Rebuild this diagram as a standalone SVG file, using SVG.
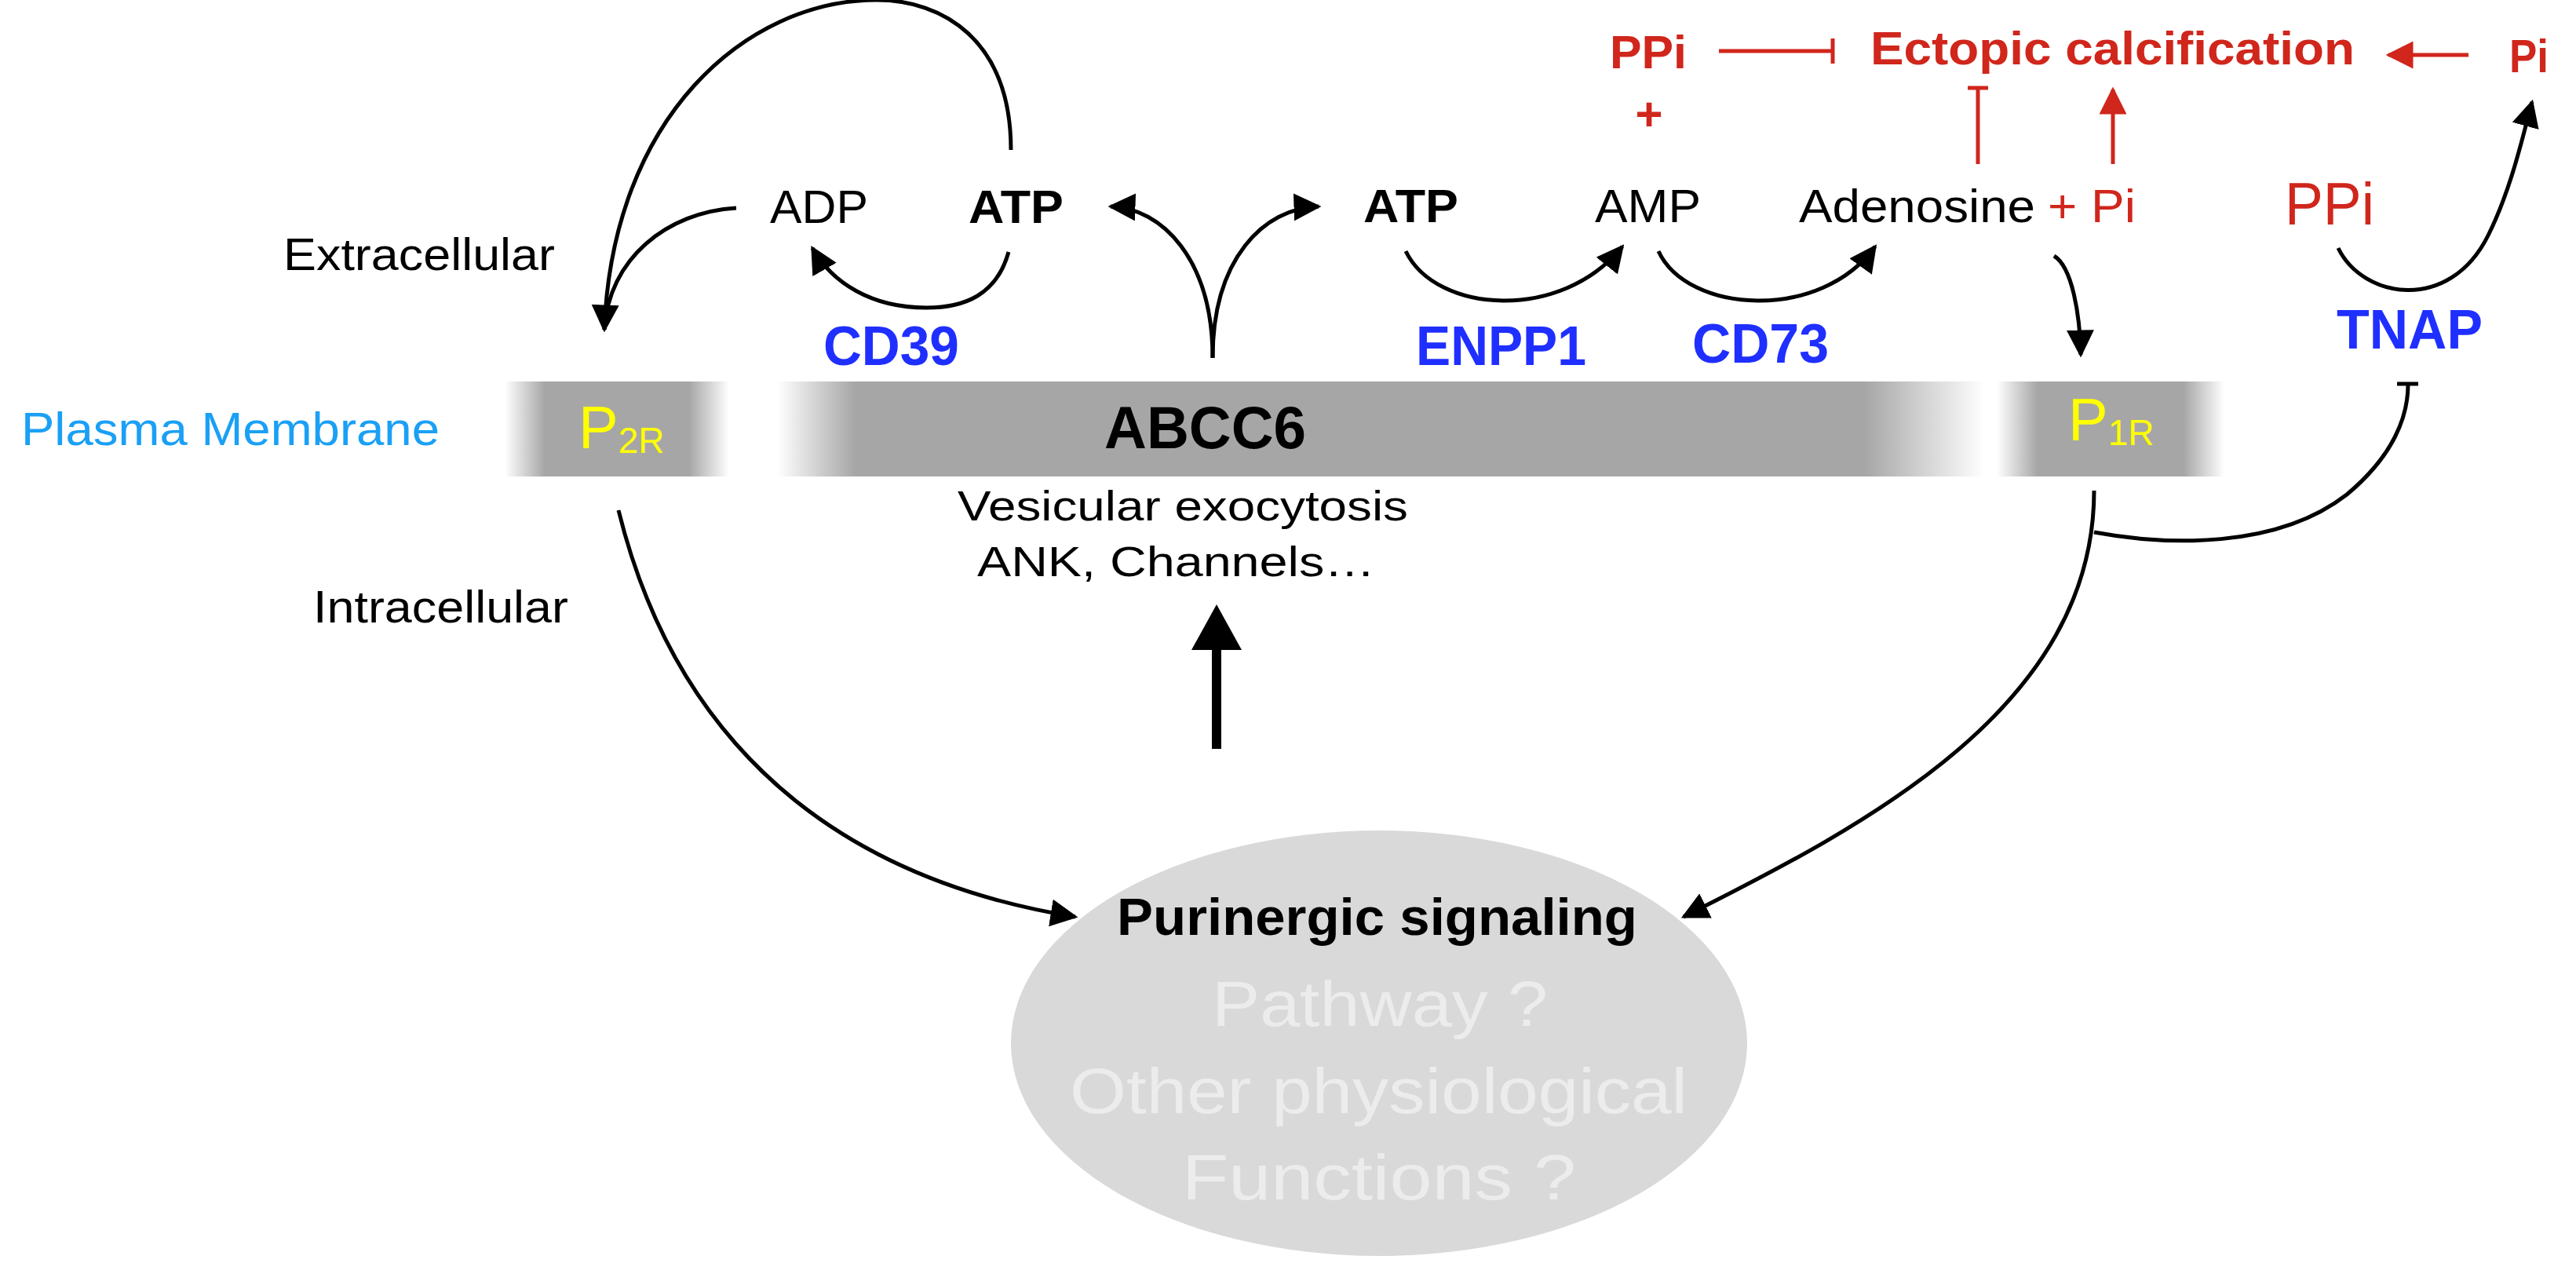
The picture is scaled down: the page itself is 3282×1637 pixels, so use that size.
<svg xmlns="http://www.w3.org/2000/svg" width="3282" height="1637" viewBox="0 0 3282 1637">
<style>
text{font-family:"Liberation Sans",Arial,sans-serif}
.b{font-weight:bold}.blue{fill:#1F2FFF;font-weight:bold;font-size:70px}
.red{fill:#D0261C}.ln{fill:none;stroke:#000;stroke-width:5}.rl{fill:none;stroke:#D0261C;stroke-width:5}
.gr{fill:#ECECEC;font-size:82px}
</style>
<defs>
<marker id="ah" viewBox="0 0 10 10" refX="9" refY="5" markerWidth="7" markerHeight="7" markerUnits="strokeWidth" orient="auto"><path d="M0,0 L10,5 L0,10 z" fill="#000"/></marker>
<marker id="rah" viewBox="0 0 10 10" refX="9" refY="5" markerWidth="7" markerHeight="7" markerUnits="strokeWidth" orient="auto"><path d="M0,0 L10,5 L0,10 z" fill="#D0261C"/></marker>
<linearGradient id="gBox" x1="0" x2="1" y1="0" y2="0"><stop offset="0" stop-color="#fff"/><stop offset="0.18" stop-color="#A6A6A6"/><stop offset="0.82" stop-color="#A6A6A6"/><stop offset="1" stop-color="#fff"/></linearGradient>
<linearGradient id="gBar" x1="0" x2="1" y1="0" y2="0"><stop offset="0" stop-color="#fff"/><stop offset="0.065" stop-color="#A6A6A6"/><stop offset="0.9" stop-color="#A6A6A6"/><stop offset="1" stop-color="#fff"/></linearGradient>
</defs>
<g id="labels">
<text x="27" y="567" font-size="60" fill="#1AA0F5" textLength="533" lengthAdjust="spacingAndGlyphs">Plasma Membrane</text>
<text x="361" y="344" font-size="58" textLength="346" lengthAdjust="spacingAndGlyphs">Extracellular</text>
<text x="399" y="793" font-size="58" textLength="325" lengthAdjust="spacingAndGlyphs">Intracellular</text>
</g>
<g id="p2r"><rect x="643" y="486" width="286" height="121" fill="url(#gBox)"/>
<text x="737" y="571" font-size="76" fill="#FFFF00">P<tspan font-size="46" dy="6">2R</tspan></text></g>
<g id="abcc6"><rect x="990" y="486" width="1538" height="121" fill="url(#gBar)"/>
<text x="1407" y="571" font-size="76" class="b" textLength="257" lengthAdjust="spacingAndGlyphs">ABCC6</text>
<text x="1220" y="663" font-size="54" textLength="574" lengthAdjust="spacingAndGlyphs">Vesicular exocytosis</text>
<text x="1245" y="734" font-size="54" textLength="507" lengthAdjust="spacingAndGlyphs">ANK, Channels…</text></g>
<g id="p1r"><rect x="2544" y="486" width="290" height="121" fill="url(#gBox)"/>
<text x="2635" y="561" font-size="76" fill="#FFFF00">P<tspan font-size="46" dy="6">1R</tspan></text></g>
<g id="n-adp"><text x="981" y="284" font-size="60" textLength="125" lengthAdjust="spacingAndGlyphs">ADP</text></g>
<g id="n-atp1"><text x="1234" y="284" font-size="60" class="b" textLength="121" lengthAdjust="spacingAndGlyphs">ATP</text></g>
<g id="n-cd39"><text x="1049" y="465" class="blue" textLength="173" lengthAdjust="spacingAndGlyphs">CD39</text></g>
<g id="n-atp2"><text x="1737" y="283" font-size="60" class="b" textLength="121" lengthAdjust="spacingAndGlyphs">ATP</text></g>
<g id="n-amp"><text x="2032" y="283" font-size="60" textLength="135" lengthAdjust="spacingAndGlyphs">AMP</text></g>
<g id="n-ado"><text x="2292" y="283" font-size="60" textLength="301" lengthAdjust="spacingAndGlyphs">Adenosine</text>
<text x="2609" y="283" font-size="60" class="red" textLength="112" lengthAdjust="spacingAndGlyphs">+ Pi</text></g>
<g id="n-enpp1"><text x="1804" y="465" class="blue" textLength="217" lengthAdjust="spacingAndGlyphs">ENPP1</text></g>
<g id="n-cd73"><text x="2156" y="462" class="blue" textLength="174" lengthAdjust="spacingAndGlyphs">CD73</text></g>
<g id="n-ppi2"><text x="2911" y="286" font-size="76" class="red" textLength="114" lengthAdjust="spacingAndGlyphs">PPi</text></g>
<g id="n-tnap"><text x="2977" y="444" class="blue" textLength="186" lengthAdjust="spacingAndGlyphs">TNAP</text></g>
<g id="n-ppi1"><text x="2051" y="87" font-size="60" class="red b" textLength="98" lengthAdjust="spacingAndGlyphs">PPi</text>
<text x="2101" y="166" font-size="60" class="red b" text-anchor="middle">+</text></g>
<g id="n-ectopic"><text x="2383" y="82" font-size="60" class="red b" textLength="617" lengthAdjust="spacingAndGlyphs">Ectopic calcification</text></g>
<g id="n-pi"><text x="3197" y="92" font-size="60" class="red b" textLength="50" lengthAdjust="spacingAndGlyphs">Pi</text></g>
<g id="n-puri"><ellipse cx="1757" cy="1329" rx="469" ry="271" fill="#D9D9D9"/>
<text x="1423" y="1191" font-size="66" class="b" textLength="663" lengthAdjust="spacingAndGlyphs">Purinergic signaling</text>
<text x="1544" y="1307" class="gr" textLength="428" lengthAdjust="spacingAndGlyphs">Pathway ?</text>
<text x="1363" y="1418" class="gr" textLength="787" lengthAdjust="spacingAndGlyphs">Other physiological</text>
<text x="1506" y="1528" class="gr" textLength="502" lengthAdjust="spacingAndGlyphs">Functions  ?</text></g>
<g id="connectors">
<path class="ln" d="M1288,191 C1288,50 1200,0 1117,0 C950,0 780,150 770,420" marker-end="url(#ah)"/>
<path class="ln" d="M938,265 C850,270 775,330 770,420"/>
<path class="ln" d="M1285,321 C1270,375 1230,392 1180,392 C1110,392 1060,360 1035,316" marker-end="url(#ah)"/>
<path class="ln" d="M1545,456 C1545,330 1480,265 1415,263" marker-end="url(#ah)"/>
<path class="ln" d="M1545,456 C1545,330 1610,265 1680,263" marker-end="url(#ah)"/>
<path class="ln" d="M1791,320 C1830,400 1990,410 2067,314" marker-end="url(#ah)"/>
<path class="ln" d="M2113,320 C2150,400 2320,410 2389,314" marker-end="url(#ah)"/>
<path class="ln" d="M2617,326 C2640,340 2650,400 2651,452" marker-end="url(#ah)"/>
<path class="ln" d="M2979,316 C3010,380 3120,400 3170,300 C3200,240 3215,170 3226,130" marker-end="url(#ah)"/>
<path class="ln" d="M2668,625 C2668,900 2380,1050 2145,1168" marker-end="url(#ah)"/>
<path class="ln" d="M2668,678 C2760,695 2900,700 2990,630 C3050,580 3068,530 3068,490"/>
<path class="ln" d="M3054,489 L3081,489"/>
<path class="ln" d="M788,650 C830,820 950,1100 1370,1168" marker-end="url(#ah)"/>
<path d="M1550,954 L1550,826" stroke="#000" stroke-width="12"/>
<path d="M1518,828 L1550,770 L1582,828 z" fill="#000"/>
<path class="rl" d="M2190,65 L2335,65 M2335,49 L2335,81"/>
<path class="rl" d="M3145,70 L3043,70" marker-end="url(#rah)"/>
<path class="rl" d="M2520,209 L2520,112 M2507,112 L2533,112"/>
<path class="rl" d="M2692,209 L2692,114" marker-end="url(#rah)"/>
</g>
</svg>
